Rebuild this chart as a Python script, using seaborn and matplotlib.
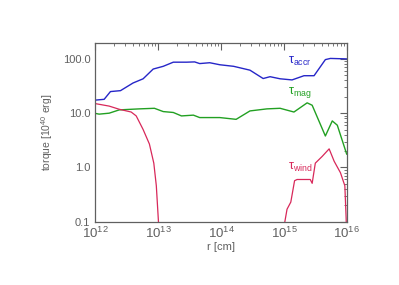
import numpy as np
import pandas as pd
import matplotlib
matplotlib.use("Agg")
import matplotlib.pyplot as plt
import seaborn as sns
from matplotlib.ticker import FixedLocator, LogLocator, NullFormatter

sns.set_theme(style="white")
plt.rcParams['font.family'] = ['Liberation Sans', 'DejaVu Sans']
plt.rcParams['mathtext.fontset'] = 'custom'
plt.rcParams['mathtext.rm'] = 'Liberation Sans'
plt.rcParams['mathtext.it'] = 'Liberation Sans'

# log10(r [cm]) and torque [1e40 erg]
accr_logr = [12.00, 12.14, 12.24, 12.40, 12.60, 12.76, 12.92, 13.08, 13.24, 13.45, 13.58, 13.66,
             13.82, 13.98, 14.20, 14.46, 14.67, 14.78, 14.94, 15.13, 15.32, 15.48, 15.66, 15.74, 16.00]
accr_val = [17.4, 18.0, 25.0, 26.0, 36.0, 43.0, 65.0, 73.0, 87.0, 87.0, 88.0, 82.0,
            85.0, 78.0, 73.0, 62.0, 43.5, 47.0, 43.0, 41.0, 49.0, 49.0, 97.0, 102.0, 100.0]

mag_logr = [12.00, 12.06, 12.22, 12.38, 12.70, 12.94, 13.08, 13.24, 13.37, 13.56, 13.66, 13.98,
            14.24, 14.46, 14.73, 14.94, 15.16, 15.37, 15.45, 15.66, 15.77, 15.85, 16.00]
mag_val = [9.9, 9.6, 10.0, 11.5, 12.0, 12.3, 10.7, 10.3, 8.9, 9.2, 8.3, 8.3,
           7.7, 11.0, 12.0, 12.3, 10.5, 15.5, 14.0, 3.8, 7.2, 6.0, 1.75]

wind1_logr = [12.00, 12.22, 12.38, 12.57, 12.65, 12.76, 12.86, 12.93, 12.97, 13.00, 13.02]
wind1_val = [15.0, 13.5, 11.8, 10.5, 8.9, 5.0, 2.7, 1.2, 0.46, 0.12, 0.05]

wind2_logr = [14.97, 15.05, 15.11, 15.17, 15.21, 15.42, 15.45, 15.50, 15.61, 15.72, 15.80, 15.90, 15.97, 15.99, 16.00]
wind2_val = [0.05, 0.17, 0.23, 0.57, 0.60, 0.60, 0.51, 1.2, 1.6, 2.2, 1.3, 0.8, 0.46, 0.12, 0.05]

y_ticks = [0.1, 1.0, 10.0, 100.0]
y_tick_labels = ["0.1", "1.0", "10.0", "100.0"]
x_ticks = [1e12, 1e13, 1e14, 1e15, 1e16]
x_tick_labels = ["10$^{12}$", "10$^{13}$", "10$^{14}$", "10$^{15}$", "10$^{16}$"]

c_accr = "#2626c8"
c_mag = "#22a022"
c_wind = "#d8285a"
gray = "#606060"

fig = plt.figure(figsize=(3.99, 2.85), dpi=100)
ax = fig.add_axes([0.239, 0.222, 0.630, 0.627])

def r(lr):
    return [10.0 ** v for v in lr]

sns.lineplot(x=r(accr_logr), y=accr_val, ax=ax, color=c_accr, lw=1.0, sort=False)
sns.lineplot(x=r(mag_logr), y=mag_val, ax=ax, color=c_mag, lw=1.0, sort=False)
sns.lineplot(x=r(wind1_logr), y=wind1_val, ax=ax, color=c_wind, lw=0.9, sort=False)
sns.lineplot(x=r(wind2_logr), y=wind2_val, ax=ax, color=c_wind, lw=0.9, sort=False)

ax.set_xscale("log")
ax.set_yscale("log")
ax.set_xlim(1e12, 1e16)
ax.set_ylim(0.1, 196)

ax.yaxis.set_major_locator(FixedLocator(y_ticks))
ax.set_yticklabels(y_tick_labels)
ax.xaxis.set_major_locator(FixedLocator(x_ticks))
ax.set_xticklabels(x_tick_labels)
ax.xaxis.set_minor_locator(LogLocator(base=10, subs=np.arange(2, 10)))
ax.yaxis.set_minor_locator(LogLocator(base=10, subs=np.arange(2, 10)))
ax.xaxis.set_minor_formatter(NullFormatter())
ax.yaxis.set_minor_formatter(NullFormatter())

ax.tick_params(which="both", direction="in", top=True, right=True, color=gray,
               labelcolor=gray, labelsize=8)
ax.tick_params(which="major", length=5, width=0.8)
ax.tick_params(which="minor", length=2.5, width=0.6)
ax.tick_params(axis="x", which="major", labelsize=9.5, pad=3)
for s in ax.spines.values():
    s.set_color(gray)
    s.set_linewidth(0.9)

ax.set_xlabel("r [cm]", color=gray, fontsize=8, labelpad=1)
ax.set_ylabel("torque [10$^{40}$ erg]", color=gray, fontsize=7.5, labelpad=6)

ax.text(10 ** 15.06, 90, "τ$_{\\rm accr}$", color=c_accr, fontsize=9, va="center", ha="left")
ax.text(10 ** 15.06, 24, "τ$_{\\rm mag}$", color=c_mag, fontsize=9, va="center", ha="left")
ax.text(10 ** 15.06, 1.0, "τ$_{\\rm wind}$", color=c_wind, fontsize=9, va="center", ha="left")

fig.savefig("out.png", dpi=100)
